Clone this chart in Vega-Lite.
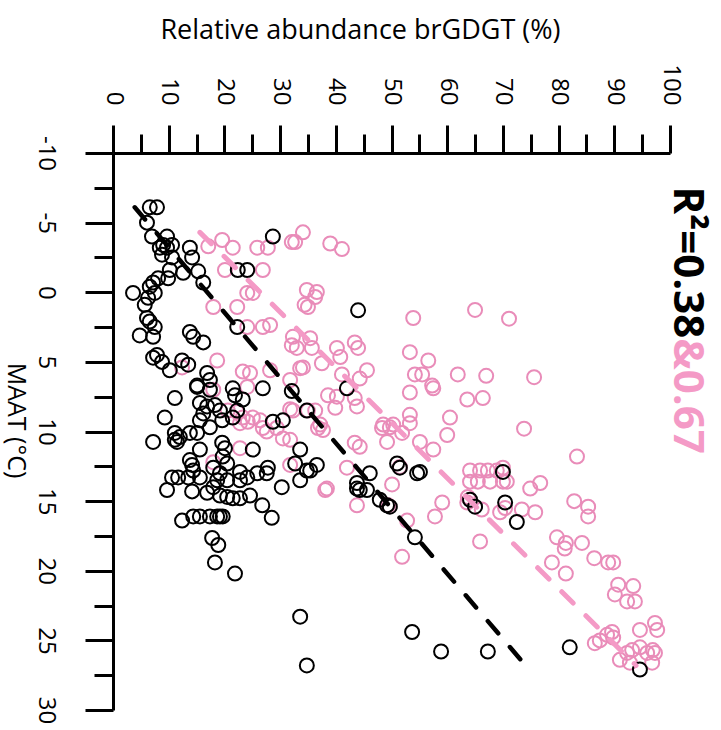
{
  "$schema": "https://vega.github.io/schema/vega-lite/v6.json",
  "width": 557,
  "height": 557,
  "autosize": "none",
  "padding": {"left": 113, "top": 153, "right": 51, "bottom": 20},
  "background": "white",
  "config": {"view": {"stroke": null}, "font": "Open Sans"},
  "datasets": {
    "points": [
      {"group":"II","abundance":17.1,"maat":-3.3},{"group":"II","abundance":19.6,"maat":-3.75},{"group":"II","abundance":21.5,"maat":-3.2},{"group":"II","abundance":25.9,"maat":-3.2},{"group":"II","abundance":27.8,"maat":-3.2},{"group":"II","abundance":32.1,"maat":-3.6},{"group":"II","abundance":34.1,"maat":-4.3},{"group":"II","abundance":32.7,"maat":-3.6},{"group":"II","abundance":39.0,"maat":-3.5},{"group":"II","abundance":41.1,"maat":-3.1},
      {"group":"II","abundance":20.1,"maat":-1.6},{"group":"II","abundance":26.9,"maat":-1.6},{"group":"II","abundance":34.8,"maat":-0.16},{"group":"II","abundance":36.6,"maat":-0.02},{"group":"II","abundance":36.3,"maat":0.34},{"group":"II","abundance":35.0,"maat":1.06},{"group":"II","abundance":34.4,"maat":0.9},{"group":"II","abundance":18.0,"maat":1.06},{"group":"II","abundance":22.3,"maat":1.06},{"group":"II","abundance":24.1,"maat":0.05},
      {"group":"II","abundance":25.1,"maat":0.05},{"group":"II","abundance":24.1,"maat":2.5},{"group":"II","abundance":26.9,"maat":2.5},{"group":"II","abundance":28.2,"maat":2.35},{"group":"II","abundance":32.3,"maat":3.2},{"group":"II","abundance":32.1,"maat":3.8},{"group":"II","abundance":18.7,"maat":4.9},{"group":"II","abundance":12.4,"maat":5.4},{"group":"II","abundance":24.6,"maat":5.8},{"group":"II","abundance":23.3,"maat":5.7},
      {"group":"II","abundance":28.2,"maat":5.6},{"group":"II","abundance":53.9,"maat":1.85},{"group":"II","abundance":65.0,"maat":1.27},{"group":"II","abundance":71.1,"maat":1.9},{"group":"II","abundance":33.0,"maat":4.0},{"group":"II","abundance":35.4,"maat":3.3},{"group":"II","abundance":35.7,"maat":4.0},{"group":"II","abundance":40.2,"maat":4.0},{"group":"II","abundance":40.8,"maat":4.65},{"group":"II","abundance":43.4,"maat":3.6},
      {"group":"II","abundance":44.0,"maat":4.0},{"group":"II","abundance":37.5,"maat":5.1},{"group":"II","abundance":34.1,"maat":5.4},{"group":"II","abundance":33.6,"maat":5.45},{"group":"II","abundance":45.6,"maat":5.6},{"group":"II","abundance":44.3,"maat":6.2},{"group":"II","abundance":41.1,"maat":5.9},{"group":"II","abundance":53.3,"maat":4.3},{"group":"II","abundance":56.6,"maat":4.9},{"group":"II","abundance":54.2,"maat":5.9},
      {"group":"II","abundance":55.5,"maat":5.9},{"group":"II","abundance":57.3,"maat":6.7},{"group":"II","abundance":57.5,"maat":6.9},{"group":"II","abundance":53.3,"maat":7.2},{"group":"II","abundance":61.9,"maat":5.9},{"group":"II","abundance":67.0,"maat":6.0},{"group":"II","abundance":63.6,"maat":7.7},{"group":"II","abundance":66.4,"maat":7.6},{"group":"II","abundance":31.8,"maat":6.3},{"group":"II","abundance":38.6,"maat":7.4},
      {"group":"II","abundance":40.2,"maat":7.5},{"group":"II","abundance":39.9,"maat":8.3},{"group":"II","abundance":43.4,"maat":7.6},{"group":"II","abundance":43.8,"maat":8.2},{"group":"II","abundance":32.3,"maat":8.5},{"group":"II","abundance":35.0,"maat":8.5},{"group":"II","abundance":36.3,"maat":8.5},{"group":"II","abundance":53.3,"maat":8.8},{"group":"II","abundance":60.5,"maat":9.0},{"group":"II","abundance":48.5,"maat":9.5},
      {"group":"II","abundance":50.3,"maat":9.5},{"group":"II","abundance":37.2,"maat":9.5},{"group":"II","abundance":36.8,"maat":9.75},{"group":"II","abundance":37.7,"maat":9.9},{"group":"II","abundance":48.3,"maat":9.75},{"group":"II","abundance":49.7,"maat":9.7},{"group":"II","abundance":51.9,"maat":10.1},{"group":"II","abundance":53.3,"maat":9.4},{"group":"II","abundance":49.2,"maat":10.75},{"group":"II","abundance":55.1,"maat":10.75},
      {"group":"II","abundance":57.5,"maat":11.3},{"group":"II","abundance":60.0,"maat":10.25},{"group":"II","abundance":43.4,"maat":10.8},{"group":"II","abundance":44.3,"maat":11.1},{"group":"II","abundance":31.8,"maat":10.6},{"group":"II","abundance":42.0,"maat":12.6},{"group":"II","abundance":51.5,"maat":12.55},{"group":"II","abundance":50.1,"maat":13.8},{"group":"II","abundance":38.1,"maat":14.2},{"group":"II","abundance":38.4,"maat":14.1},
      {"group":"II","abundance":43.8,"maat":15.3},{"group":"II","abundance":49.4,"maat":15.3},{"group":"II","abundance":52.8,"maat":16.4},{"group":"II","abundance":59.1,"maat":15.1},{"group":"II","abundance":57.8,"maat":16.1},{"group":"II","abundance":51.9,"maat":19.0},{"group":"II","abundance":65.9,"maat":17.9},{"group":"II","abundance":64.1,"maat":12.8},{"group":"II","abundance":65.9,"maat":12.8},{"group":"II","abundance":67.3,"maat":12.8},
      {"group":"II","abundance":68.9,"maat":12.8},{"group":"II","abundance":70.0,"maat":12.6},{"group":"II","abundance":64.1,"maat":13.6},{"group":"II","abundance":65.5,"maat":13.6},{"group":"II","abundance":67.7,"maat":13.6},{"group":"II","abundance":70.0,"maat":13.6},{"group":"II","abundance":63.7,"maat":14.7},{"group":"II","abundance":66.2,"maat":15.6},{"group":"II","abundance":69.5,"maat":15.8},{"group":"II","abundance":70.4,"maat":15.5},
      {"group":"II","abundance":63.6,"maat":15.1},{"group":"II","abundance":75.6,"maat":6.1},{"group":"II","abundance":73.8,"maat":9.8},{"group":"II","abundance":83.3,"maat":11.8},{"group":"II","abundance":70.7,"maat":13.6},{"group":"II","abundance":74.9,"maat":14.1},{"group":"II","abundance":76.7,"maat":13.7},{"group":"II","abundance":73.4,"maat":15.6},{"group":"II","abundance":75.8,"maat":15.8},{"group":"II","abundance":82.8,"maat":15.0},
      {"group":"II","abundance":85.3,"maat":15.4},{"group":"II","abundance":85.3,"maat":16.1},{"group":"II","abundance":79.7,"maat":17.6},{"group":"II","abundance":81.3,"maat":18.0},{"group":"II","abundance":81.1,"maat":18.4},{"group":"II","abundance":84.2,"maat":18.0},{"group":"II","abundance":86.4,"maat":19.1},{"group":"II","abundance":88.9,"maat":19.4},{"group":"II","abundance":89.8,"maat":19.4},{"group":"II","abundance":78.8,"maat":19.4},
      {"group":"II","abundance":81.3,"maat":20.2},{"group":"II","abundance":90.7,"maat":21.0},{"group":"II","abundance":93.4,"maat":21.1},{"group":"II","abundance":90.1,"maat":21.7},{"group":"II","abundance":92.3,"maat":22.2},{"group":"II","abundance":93.7,"maat":22.2},{"group":"II","abundance":86.5,"maat":25.2},{"group":"II","abundance":87.4,"maat":25.0},{"group":"II","abundance":89.6,"maat":24.4},{"group":"II","abundance":89.8,"maat":24.8},
      {"group":"II","abundance":88.7,"maat":24.6},{"group":"II","abundance":94.6,"maat":24.25},{"group":"II","abundance":97.3,"maat":23.75},{"group":"II","abundance":97.7,"maat":24.25},{"group":"II","abundance":92.3,"maat":25.9},{"group":"II","abundance":91.0,"maat":26.4},{"group":"II","abundance":93.2,"maat":25.7},{"group":"II","abundance":94.6,"maat":25.5},{"group":"II","abundance":95.9,"maat":25.9},{"group":"II","abundance":97.3,"maat":25.9},
      {"group":"II","abundance":96.8,"maat":26.6},{"group":"II","abundance":92.8,"maat":26.6},{"group":"II","abundance":96.9,"maat":25.7},{"group":"II","abundance":18.0,"maat":7.0},{"group":"II","abundance":20.6,"maat":8.5},{"group":"II","abundance":22.3,"maat":8.6},{"group":"II","abundance":23.3,"maat":9.0},{"group":"II","abundance":24.2,"maat":9.3},{"group":"II","abundance":25.1,"maat":9.0},{"group":"II","abundance":26.4,"maat":9.2},
      {"group":"II","abundance":26.9,"maat":9.75},{"group":"II","abundance":27.6,"maat":10.0},{"group":"II","abundance":22.8,"maat":9.4},{"group":"II","abundance":29.4,"maat":9.75},{"group":"II","abundance":30.5,"maat":10.5},{"group":"II","abundance":31.8,"maat":8.4},{"group":"II","abundance":22.8,"maat":11.2},{"group":"II","abundance":18.0,"maat":12.2},{"group":"II","abundance":31.8,"maat":12.4},{"group":"II","abundance":24.1,"maat":6.8},
      {"group":"I","abundance":6.6,"maat":-6.1},{"group":"I","abundance":7.9,"maat":-6.1},{"group":"I","abundance":6.1,"maat":-5.0},{"group":"I","abundance":7.0,"maat":-4.0},{"group":"I","abundance":9.7,"maat":-4.0},{"group":"I","abundance":9.0,"maat":-3.4},{"group":"I","abundance":8.4,"maat":-3.2},{"group":"I","abundance":9.7,"maat":-3.2},{"group":"I","abundance":10.6,"maat":-3.4},{"group":"I","abundance":8.8,"maat":-2.7},
      {"group":"I","abundance":10.6,"maat":-2.5},{"group":"I","abundance":13.8,"maat":-3.2},{"group":"I","abundance":14.2,"maat":-2.5},{"group":"I","abundance":10.2,"maat":-1.6},{"group":"I","abundance":12.6,"maat":-1.4},{"group":"I","abundance":15.3,"maat":-1.5},{"group":"I","abundance":9.9,"maat":-1.0},{"group":"I","abundance":8.1,"maat":-1.0},{"group":"I","abundance":7.2,"maat":-0.7},{"group":"I","abundance":6.6,"maat":-0.4},
      {"group":"I","abundance":16.2,"maat":-0.7},{"group":"I","abundance":3.6,"maat":0.05},{"group":"I","abundance":7.5,"maat":0.05},{"group":"I","abundance":6.3,"maat":0.4},{"group":"I","abundance":5.7,"maat":0.9},{"group":"I","abundance":6.1,"maat":1.85},{"group":"I","abundance":6.6,"maat":2.1},{"group":"I","abundance":7.5,"maat":2.5},{"group":"I","abundance":4.8,"maat":3.1},{"group":"I","abundance":7.2,"maat":3.2},
      {"group":"I","abundance":13.8,"maat":2.85},{"group":"I","abundance":14.4,"maat":3.2},{"group":"I","abundance":16.2,"maat":3.6},{"group":"I","abundance":7.9,"maat":4.5},{"group":"I","abundance":7.2,"maat":4.7},{"group":"I","abundance":8.8,"maat":5.0},{"group":"I","abundance":10.2,"maat":5.6},{"group":"I","abundance":12.4,"maat":4.9},{"group":"I","abundance":13.5,"maat":5.2},{"group":"I","abundance":15.1,"maat":6.7},
      {"group":"I","abundance":16.9,"maat":5.8},{"group":"I","abundance":17.4,"maat":6.3},{"group":"I","abundance":22.4,"maat":-1.6},{"group":"I","abundance":24.1,"maat":-1.6},{"group":"I","abundance":28.7,"maat":-4.0},{"group":"I","abundance":22.3,"maat":2.5},{"group":"I","abundance":44.0,"maat":1.3},{"group":"I","abundance":42.0,"maat":6.9},{"group":"I","abundance":32.1,"maat":7.1},{"group":"I","abundance":34.8,"maat":8.5},
      {"group":"I","abundance":11.1,"maat":7.6},{"group":"I","abundance":15.1,"maat":6.8},{"group":"I","abundance":17.4,"maat":7.0},{"group":"I","abundance":21.5,"maat":6.9},{"group":"I","abundance":26.9,"maat":6.9},{"group":"I","abundance":9.3,"maat":9.0},{"group":"I","abundance":15.6,"maat":7.95},{"group":"I","abundance":16.9,"maat":8.2},{"group":"I","abundance":16.2,"maat":8.7},{"group":"I","abundance":18.3,"maat":8.1},
      {"group":"I","abundance":19.2,"maat":8.5},{"group":"I","abundance":21.9,"maat":7.4},{"group":"I","abundance":22.3,"maat":8.5},{"group":"I","abundance":23.3,"maat":7.7},{"group":"I","abundance":15.6,"maat":9.2},{"group":"I","abundance":17.4,"maat":9.7},{"group":"I","abundance":19.6,"maat":9.2},{"group":"I","abundance":21.5,"maat":9.0},{"group":"I","abundance":28.7,"maat":9.3},{"group":"I","abundance":30.5,"maat":9.2},
      {"group":"I","abundance":7.2,"maat":10.75},{"group":"I","abundance":11.1,"maat":10.1},{"group":"I","abundance":12.0,"maat":10.4},{"group":"I","abundance":11.1,"maat":10.6},{"group":"I","abundance":13.8,"maat":10.1},{"group":"I","abundance":15.1,"maat":10.1},{"group":"I","abundance":11.5,"maat":10.75},{"group":"I","abundance":15.6,"maat":11.3},{"group":"I","abundance":19.6,"maat":10.8},{"group":"I","abundance":20.1,"maat":11.2},
      {"group":"I","abundance":19.7,"maat":11.8},{"group":"I","abundance":25.1,"maat":11.3},{"group":"I","abundance":33.6,"maat":11.3},{"group":"I","abundance":13.8,"maat":12.05},{"group":"I","abundance":14.2,"maat":12.4},{"group":"I","abundance":14.4,"maat":12.8},{"group":"I","abundance":18.0,"maat":12.6},{"group":"I","abundance":19.2,"maat":13.0},{"group":"I","abundance":20.5,"maat":12.3},{"group":"I","abundance":22.8,"maat":12.9},
      {"group":"I","abundance":25.9,"maat":13.0},{"group":"I","abundance":27.6,"maat":13.0},{"group":"I","abundance":27.8,"maat":12.6},{"group":"I","abundance":10.6,"maat":13.3},{"group":"I","abundance":11.7,"maat":13.3},{"group":"I","abundance":13.5,"maat":13.3},{"group":"I","abundance":15.6,"maat":13.3},{"group":"I","abundance":18.7,"maat":13.5},{"group":"I","abundance":20.5,"maat":13.5},{"group":"I","abundance":22.8,"maat":13.5},
      {"group":"I","abundance":24.1,"maat":13.3},{"group":"I","abundance":9.7,"maat":14.2},{"group":"I","abundance":14.2,"maat":14.3},{"group":"I","abundance":16.9,"maat":14.4},{"group":"I","abundance":18.0,"maat":14.0},{"group":"I","abundance":19.2,"maat":14.6},{"group":"I","abundance":20.5,"maat":14.7},{"group":"I","abundance":21.5,"maat":14.8},{"group":"I","abundance":22.8,"maat":14.8},{"group":"I","abundance":24.6,"maat":14.6},
      {"group":"I","abundance":26.8,"maat":15.3},{"group":"I","abundance":30.3,"maat":14.0},{"group":"I","abundance":33.6,"maat":13.5},{"group":"I","abundance":35.4,"maat":12.8},{"group":"I","abundance":12.4,"maat":16.4},{"group":"I","abundance":14.4,"maat":16.1},{"group":"I","abundance":15.6,"maat":16.1},{"group":"I","abundance":17.4,"maat":16.1},{"group":"I","abundance":18.7,"maat":16.1},{"group":"I","abundance":19.2,"maat":16.1},
      {"group":"I","abundance":19.7,"maat":16.1},{"group":"I","abundance":28.5,"maat":16.2},{"group":"I","abundance":17.8,"maat":17.65},{"group":"I","abundance":18.9,"maat":18.15},{"group":"I","abundance":18.3,"maat":19.4},{"group":"I","abundance":21.9,"maat":20.2},{"group":"I","abundance":32.7,"maat":12.3},{"group":"I","abundance":34.8,"maat":12.8},{"group":"I","abundance":36.6,"maat":12.4},{"group":"I","abundance":46.1,"maat":13.0},
      {"group":"I","abundance":51.0,"maat":12.3},{"group":"I","abundance":51.5,"maat":12.6},{"group":"I","abundance":54.6,"maat":13.0},{"group":"I","abundance":55.1,"maat":12.9},{"group":"I","abundance":43.8,"maat":13.7},{"group":"I","abundance":44.3,"maat":14.2},{"group":"I","abundance":45.6,"maat":14.2},{"group":"I","abundance":43.8,"maat":14.1},{"group":"I","abundance":47.9,"maat":14.9},{"group":"I","abundance":49.2,"maat":15.3},
      {"group":"I","abundance":49.7,"maat":15.4},{"group":"I","abundance":54.2,"maat":17.6},{"group":"I","abundance":33.6,"maat":23.3},{"group":"I","abundance":34.8,"maat":26.8},{"group":"I","abundance":53.7,"maat":24.4},{"group":"I","abundance":58.9,"maat":25.8},{"group":"I","abundance":67.3,"maat":25.8},{"group":"I","abundance":82.0,"maat":25.5},{"group":"I","abundance":94.6,"maat":27.1},{"group":"I","abundance":70.0,"maat":12.9},
      {"group":"I","abundance":70.4,"maat":15.1},{"group":"I","abundance":72.5,"maat":16.5},{"group":"I","abundance":64.1,"maat":14.9},{"group":"I","abundance":65.0,"maat":15.4}
    ],
    "fits": [
      {"group":"I","abundance":3.9,"maat":-6.1},{"group":"I","abundance":74.5,"maat":27.0},
      {"group":"II","abundance":15.6,"maat":-4.3},{"group":"II","abundance":93.9,"maat":26.8}
    ],
    "labels": [
      {"text":"R²=0.38","abundance":100.8,"maat":3.3}
    ],
    "labels2": [
      {"text":"&0.67","abundance":100.8,"maat":3.3}
    ]
  },
  "layer": [
    {
      "data": {"name": "points"},
      "mark": {"type": "point", "filled": false, "size": 196, "strokeWidth": 2, "opacity": 1},
      "encoding": {
        "x": {
          "field": "abundance", "type": "quantitative",
          "scale": {"domain": [0, 100], "nice": false, "zero": false},
          "axis": {
            "orient": "top", "values": [0,10,20,30,40,50,60,70,80,90,100],
            "grid": false, "domainColor": "black", "domainWidth": 3,
            "tickColor": "black", "tickWidth": 3, "tickSize": 28,
            "labelAngle": 90, "labelAlign": "right", "labelBaseline": "middle",
            "labelPadding": 20, "labelFontSize": 24, "labelColor": "black",
            "labelFlush": false, "labelOverlap": false, "labelBound": false,
            "title": "Relative abundance brGDGT (%)", "titleFontSize": 27, "titleFontWeight": "normal",
            "titleColor": "black", "titleAngle": 0, "titleX": 247, "titleY": -123,
            "titleAlign": "center", "titleBaseline": "middle"
          }
        },
        "y": {
          "field": "maat", "type": "quantitative",
          "scale": {"domain": [-10, 30], "reverse": true, "nice": false, "zero": false},
          "axis": {
            "orient": "left", "values": [-10,-5,0,5,10,15,20,25,30],
            "grid": false, "domainColor": "black", "domainWidth": 3,
            "tickColor": "black", "tickWidth": 3, "tickSize": 28,
            "labelAngle": 90, "labelAlign": "center", "labelBaseline": "middle",
            "labelPadding": 40, "labelFontSize": 24, "labelColor": "black",
            "labelFlush": false, "labelOverlap": false, "labelBound": false,
            "labelExpr": "datum.value < 0 ? '-' + abs(datum.value) : '' + datum.value",
            "title": "MAAT (°C)", "titleFontSize": 25, "titleFontWeight": "normal",
            "titleColor": "black", "titleAngle": 90, "titleX": -98, "titleY": 267,
            "titleAlign": "center", "titleBaseline": "middle"
          }
        },
        "color": {
          "field": "group", "type": "nominal",
          "scale": {"domain": ["I", "II"], "range": ["#000000", "#E98CB9"]},
          "legend": null
        }
      }
    },
    {
      "data": {"name": "fits"},
      "mark": {"type": "line", "strokeOpacity": 0},
      "encoding": {
        "x": {
          "field": "abundance", "type": "quantitative",
          "axis": {
            "orient": "top", "values": [5,15,25,35,45,55,65,75,85,95],
            "grid": false, "domain": false, "labels": false, "title": null,
            "tickColor": "black", "tickWidth": 3, "tickSize": 19
          }
        },
        "y": {
          "field": "maat", "type": "quantitative",
          "axis": {
            "orient": "left", "values": [-7.5,-2.5,2.5,7.5,12.5,17.5,22.5,27.5],
            "grid": false, "domain": false, "labels": false, "title": null,
            "tickColor": "black", "tickWidth": 3, "tickSize": 19
          }
        },
        "detail": {"field": "group"}
      }
    },
    {
      "data": {"name": "fits"},
      "transform": [{"filter": "datum.group === 'I'"}],
      "mark": {"type": "line", "color": "#000000", "strokeWidth": 4.5, "strokeDash": [16, 18], "strokeCap": "round"},
      "encoding": {
        "x": {"field": "abundance", "type": "quantitative", "axis": null},
        "y": {"field": "maat", "type": "quantitative", "axis": null}
      }
    },
    {
      "data": {"name": "fits"},
      "transform": [{"filter": "datum.group === 'II'"}],
      "mark": {"type": "line", "color": "#F49AC6", "strokeWidth": 5, "strokeDash": [16, 18], "strokeCap": "round"},
      "encoding": {
        "x": {"field": "abundance", "type": "quantitative", "axis": null},
        "y": {"field": "maat", "type": "quantitative", "axis": null}
      }
    },
    {
      "data": {"name": "labels"},
      "mark": {"type": "text", "angle": 90, "align": "right", "baseline": "alphabetic", "fontSize": 42, "fontWeight": "bold", "color": "#000000"},
      "encoding": {
        "x": {"field": "abundance", "type": "quantitative", "axis": null},
        "y": {"field": "maat", "type": "quantitative", "axis": null},
        "text": {"field": "text"}
      }
    },
    {
      "data": {"name": "labels2"},
      "mark": {"type": "text", "angle": 90, "align": "left", "baseline": "alphabetic", "fontSize": 42, "fontWeight": "bold", "color": "#F49AC6"},
      "encoding": {
        "x": {"field": "abundance", "type": "quantitative", "axis": null},
        "y": {"field": "maat", "type": "quantitative", "axis": null},
        "text": {"field": "text"}
      }
    }
  ],
  "resolve": {"axis": {"x": "independent", "y": "independent"}}
}
